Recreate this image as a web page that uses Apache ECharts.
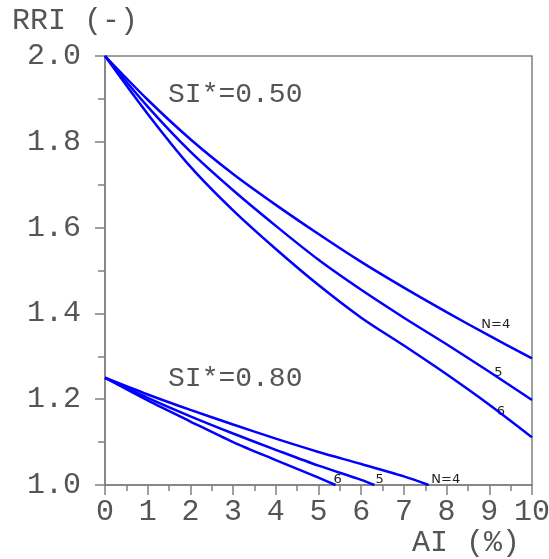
<!DOCTYPE html>
<html>
<head>
<meta charset="utf-8">
<script src="https://cdn.jsdelivr.net/npm/echarts@6/dist/echarts.min.js"></script>
<style>
html,body{margin:0;padding:0;background:#fff;}
#rri{width:549px;height:559px;}
</style>
</head>
<body>
<div id="rri"></div>
<script>
// AI (%) on x, RRI (-) on y
var ai = [0, 1, 2, 3, 4, 5, 6, 7, 8, 9, 10];
// SI*=0.50
var upN4 = [2.0, 1.898, 1.806, 1.725, 1.653, 1.585, 1.520, 1.460, 1.403, 1.348, 1.295];
var upN5 = [2.0, 1.882, 1.777, 1.687, 1.604, 1.525, 1.455, 1.390, 1.328, 1.264, 1.198];
var upN6 = [2.0, 1.865, 1.742, 1.640, 1.550, 1.466, 1.390, 1.325, 1.258, 1.187, 1.111];
// SI*=0.80
var loN4x = [0, 1, 2, 3, 4, 5, 6, 7, 7.58];
var loN4 = [1.25, 1.211, 1.175, 1.141, 1.108, 1.077, 1.049, 1.020, 1.0];
var loN5x = [0, 1, 2, 3, 4, 5, 6, 6.31];
var loN5 = [1.25, 1.203, 1.160, 1.120, 1.082, 1.045, 1.012, 1.0];
var loN6x = [0, 1, 2, 3, 4, 5, 5.40];
var loN6 = [1.25, 1.197, 1.148, 1.100, 1.058, 1.017, 1.0];

// text labels, [AI, RRI, text]
var bigNotes = [[3.05, 1.911, 'SI*=0.50'], [3.05, 1.247, 'SI*=0.80']];
var smallNotes = [[9.15, 1.373, 'N=4'], [9.21, 1.263, '5'], [9.27, 1.170, '6'],
                  [7.98, 1.013, 'N=4'], [6.43, 1.013, '5'], [5.45, 1.013, '6']];

function pairs(xs, ys){
    var out = [];
    for (var i = 0; i < xs.length; i++) out.push([xs[i], ys[i]]);
    return out;
}

var chart = echarts.init(document.getElementById('rri'));
var mono = '"Liberation Mono", "DejaVu Sans Mono", monospace';
var gray = '#808080';

function curve(name, data){
    return {
        name: name,
        type: 'line',
        data: data,
        smooth: 0.3,
        symbol: 'none',
        lineStyle: {color: '#0000ff', width: 2.5},
        animation: false
    };
}

chart.setOption({
    animation: false,
    grid: {
        left: 105, right: 17, top: 56, bottom: 74,
        outerBoundsMode: 'none',
        containLabel: false,
        show: true, borderColor: gray, borderWidth: 1.5
    },
    xAxis: {
        type: 'value',
        min: 0, max: 10, interval: 1,
        axisLine: {lineStyle: {color: gray, width: 1.5}},
        axisTick: {length: 10, lineStyle: {color: gray, width: 1.5}},
        minorTick: {show: true, splitNumber: 2, length: 6, lineStyle: {color: gray, width: 1.5}},
        splitLine: {show: false},
        axisLabel: {fontFamily: mono, fontSize: 30, color: '#555', margin: 12}
    },
    yAxis: {
        type: 'value',
        min: 1, max: 2, interval: 0.2,
        axisLine: {lineStyle: {color: gray, width: 1.5}},
        axisTick: {length: 10, lineStyle: {color: gray, width: 1.5}},
        minorTick: {show: true, splitNumber: 2, length: 7, lineStyle: {color: gray, width: 1.5}},
        splitLine: {show: false},
        axisLabel: {fontFamily: mono, fontSize: 30, color: '#555', margin: 24,
            formatter: function (v) { return v.toFixed(1); }}
    },
    series: [
        curve('SI050 N=4', pairs(ai, upN4)),
        curve('SI050 N=5', pairs(ai, upN5)),
        curve('SI050 N=6', pairs(ai, upN6)),
        curve('SI080 N=4', pairs(loN4x, loN4)),
        curve('SI080 N=5', pairs(loN5x, loN5)),
        curve('SI080 N=6', pairs(loN6x, loN6))
    ]
});

var g = [
    {type: 'text', left: 12, top: 6,
     style: {text: 'RRI (-)', font: '30px ' + mono, fill: '#555'}},
    {type: 'text', left: 412, top: 528,
     style: {text: 'AI (%)', font: '30px ' + mono, fill: '#555'}}
];
bigNotes.forEach(function (n) {
    var p = chart.convertToPixel({gridIndex: 0}, [n[0], n[1]]);
    g.push({type: 'text', x: p[0], y: p[1],
        style: {text: n[2], font: '28px ' + mono, fill: '#555', align: 'center', verticalAlign: 'middle'}});
});
smallNotes.forEach(function (n) {
    var p = chart.convertToPixel({gridIndex: 0}, [n[0], n[1]]);
    g.push({type: 'text', x: p[0], y: p[1],
        style: {text: n[2], font: '13px "DejaVu Sans", sans-serif', fill: '#222', align: 'center', verticalAlign: 'middle'}});
});
chart.setOption({graphic: g});
</script>
</body>
</html>
